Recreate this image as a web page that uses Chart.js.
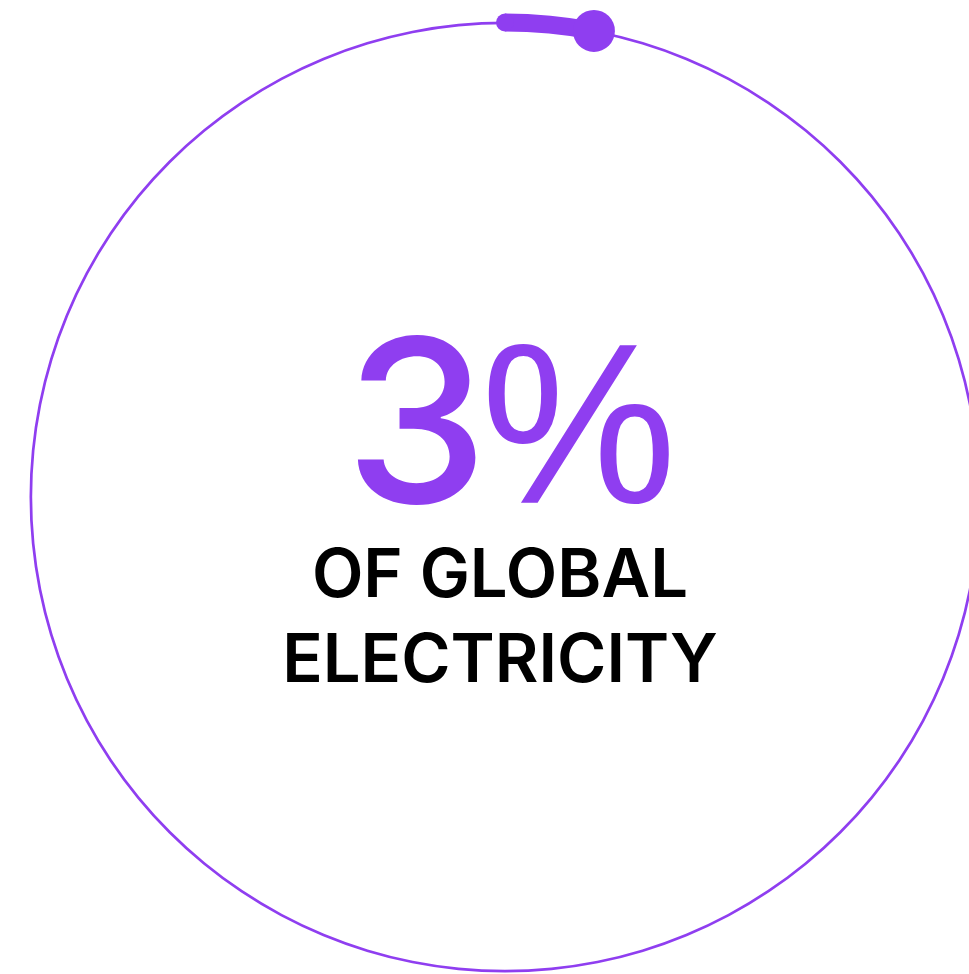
<!DOCTYPE html>
<html>
<head>
<meta charset="utf-8">
<script src="https://cdn.jsdelivr.net/npm/chart.js@4.4.1/dist/chart.umd.min.js"></script>
<style>
  html, body { margin: 0; padding: 0; background: #ffffff; overflow: hidden; width: 969px; height: 974px; }
  .wrap { position: absolute; left: 0; top: 0; width: 1010px; height: 994px; }
  .wrap canvas { position: absolute; left: 0; top: 0; }
  .big { position: absolute; left: 345px; top: 306px; color: #8f3ef0; font-size: 228px; line-height: 228px; white-space: nowrap; }
  .big .d { font-family: Inter, "Noto Sans", sans-serif; font-weight: 500; }
  .big .p { display: inline-block; font-family: "Liberation Sans", Arial, sans-serif; font-weight: 400; margin-left: -7px; transform: scaleX(0.965); transform-origin: 0 0; }
  .sub { position: absolute; left: 0; width: 1000px; text-align: center; font-family: Inter, "Noto Sans", sans-serif; color: #000; font-weight: 600; font-size: 67px; line-height: 67px; white-space: nowrap; }
</style>
</head>
<body>
<div class="wrap">
  <canvas id="ring" width="1010" height="994"></canvas>
  <canvas id="arc" width="1010" height="994"></canvas>
  <div class="big"><span class="d" id="bigNum"></span><span class="p" id="bigPct"></span></div>
  <div class="sub" id="line1" style="top:539px"></div>
  <div class="sub" id="line2" style="top:624px"></div>
</div>
<script>
// ---- data ----
const categories = ["Share", "Rest"];
const shareValues = [3, 97];
const ringValues = [100];
const valueNumber = "3";
const valueUnit = "%";
const captionLines = ["OF GLOBAL", "ELECTRICITY"];

const PURPLE = '#8f3ef0';

document.getElementById('bigNum').textContent = valueNumber;
document.getElementById('bigPct').textContent = valueUnit;
document.getElementById('line1').textContent = captionLines[0];
document.getElementById('line2').textContent = captionLines[1];

// thin full ring
const ringOuter = 475.5, ringInner = 472.8;
new Chart(document.getElementById('ring'), {
  type: 'doughnut',
  data: { labels: ['All'], datasets: [{ data: ringValues, backgroundColor: [PURPLE], borderWidth: 0 }] },
  options: {
    responsive: false, animation: false,
    radius: ringOuter, cutout: (ringInner / ringOuter * 100) + '%',
    layout: { padding: 0 },
    plugins: { legend: { display: false }, tooltip: { enabled: false } },
    events: []
  }
});

// thick share arc with round start cap and end dot
const arcOuter = 483.5, arcInner = 465.5;
const caps = {
  id: 'caps',
  afterDatasetsDraw(chart) {
    const el = chart.getDatasetMeta(0).data[0];
    if (!el) return;
    const r = (el.innerRadius + el.outerRadius) / 2;
    const half = (el.outerRadius - el.innerRadius) / 2;
    const ctx = chart.ctx;
    ctx.save();
    ctx.fillStyle = PURPLE;
    ctx.beginPath();
    ctx.arc(el.x + r * Math.cos(el.startAngle), el.y + r * Math.sin(el.startAngle), half, 0, Math.PI * 2);
    ctx.fill();
    ctx.beginPath();
    ctx.arc(el.x + r * Math.cos(el.endAngle), el.y + r * Math.sin(el.endAngle), 21, 0, Math.PI * 2);
    ctx.fill();
    ctx.restore();
  }
};
new Chart(document.getElementById('arc'), {
  type: 'doughnut',
  data: { labels: categories, datasets: [{ data: shareValues, backgroundColor: [PURPLE, 'rgba(0,0,0,0)'], borderWidth: 0 }] },
  options: {
    responsive: false, animation: false,
    radius: arcOuter, cutout: (arcInner / arcOuter * 100) + '%',
    layout: { padding: 0 },
    plugins: { legend: { display: false }, tooltip: { enabled: false } },
    events: []
  },
  plugins: [caps]
});
</script>
</body>
</html>
